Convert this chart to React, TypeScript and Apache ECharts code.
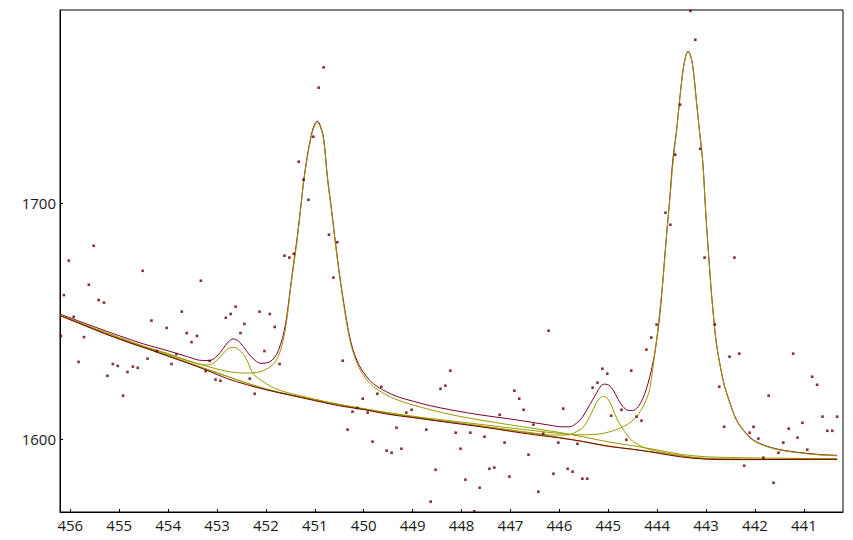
import React, { useEffect, useRef } from "react";
import * as echarts from "echarts";

const xTickValues = [441, 442, 443, 444, 445, 446, 447, 448, 449, 450, 451, 452, 453, 454, 455, 456];
const yTickValues = [1600, 1700];

const measured: number[][] = [
  [455.52, 1682.0], [456.03, 1675.7], [454.52, 1671.4], [453.33, 1667.2], [455.62, 1665.5], [456.13, 1661.1],
  [455.42, 1659.0], [455.31, 1657.9], [453.72, 1654.1], [452.62, 1656.2], [452.72, 1653.1], [452.82, 1651.5],
  [452.13, 1654.1], [451.92, 1653.1], [455.93, 1651.9], [454.34, 1650.3], [452.44, 1648.9], [451.82, 1647.6],
  [454.03, 1647.2], [456.19, 1643.8], [455.72, 1643.3], [453.41, 1643.8], [453.62, 1645.0], [452.52, 1645.0],
  [453.52, 1641.2], [454.23, 1637.4], [453.83, 1636.1], [452.03, 1637.4], [454.42, 1634.2], [455.83, 1632.8],
  [455.13, 1631.9], [455.03, 1631.1], [453.93, 1631.9], [454.72, 1630.8], [454.62, 1630.3], [454.83, 1628.5],
  [451.72, 1631.9], [453.15, 1633.2], [453.23, 1628.9], [455.24, 1626.9], [453.03, 1625.3], [452.93, 1624.8],
  [452.33, 1625.7], [454.92, 1618.5], [452.23, 1619.3], [451.62, 1677.8], [451.52, 1677.0], [451.43, 1678.6],
  [450.71, 1686.7], [450.62, 1668.5], [450.82, 1757.6], [450.92, 1749.0], [451.03, 1728.2], [451.33, 1717.6],
  [451.23, 1710.0], [451.13, 1701.5], [450.54, 1683.5],
  [450.43, 1633.3], [446.22, 1646.0], [448.23, 1629.1], [448.43, 1621.4], [448.33, 1622.7], [449.64, 1622.3],
  [449.72, 1619.3], [450.02, 1617.2], [450.13, 1613.3], [450.23, 1611.7], [449.92, 1611.3], [449.13, 1611.3],
  [449.02, 1612.5], [446.92, 1620.6], [446.82, 1617.2], [446.73, 1612.5], [447.22, 1610.4], [446.53, 1606.2],
  [446.33, 1602.4], [445.92, 1613.0], [445.12, 1629.9], [445.02, 1627.8], [445.22, 1624.0], [445.32, 1621.9],
  [444.94, 1610.0], [450.33, 1604.1], [449.33, 1604.9], [448.72, 1604.1], [448.12, 1602.8], [447.82, 1602.8],
  [447.53, 1601.1], [449.82, 1599.0], [447.12, 1598.6], [446.02, 1598.6], [445.63, 1598.1], [449.53, 1595.2],
  [449.43, 1594.3], [449.23, 1596.0], [448.02, 1596.0], [446.63, 1593.5], [448.53, 1587.1], [447.43, 1587.5],
  [447.33, 1588.0], [445.83, 1587.5], [445.73, 1586.3], [446.12, 1585.4], [447.02, 1584.2], [447.92, 1582.9],
  [445.53, 1583.3], [445.43, 1583.3], [447.63, 1579.5], [446.43, 1577.8], [448.63, 1573.6], [447.74, 1569.5],
  [443.83, 1696.0], [443.73, 1690.9], [443.03, 1677.0], [442.42, 1677.0], [442.82, 1648.6], [444.01, 1648.6],
  [444.12, 1643.1], [444.22, 1638.0], [442.52, 1635.0], [442.32, 1636.3], [441.22, 1636.3], [444.53, 1629.1],
  [440.83, 1626.5], [440.73, 1623.1], [442.73, 1622.3], [441.72, 1618.5], [444.73, 1612.5], [444.42, 1609.6],
  [444.32, 1607.9], [440.62, 1609.6], [440.32, 1609.6], [442.63, 1605.3], [442.03, 1605.3], [441.03, 1607.0],
  [441.31, 1604.5], [440.52, 1603.6], [440.42, 1603.6], [442.11, 1602.8], [441.93, 1600.3], [444.63, 1599.8],
  [441.13, 1600.7], [441.42, 1598.6], [440.93, 1595.6], [441.52, 1594.3], [441.83, 1592.2], [442.22, 1588.8],
  [441.62, 1581.6],
  [443.32, 1781.5], [443.22, 1769.3], [443.53, 1741.8], [443.63, 1720.6], [443.12, 1723.1],
];

const background: number[][] = [
  [456.2, 1652.3], [455.8, 1649.0], [455.3, 1644.8], [454.8, 1641.0], [454.4, 1638.2], [454.0, 1635.2],
  [453.6, 1632.3], [453.2, 1629.2], [452.8, 1625.8], [452.4, 1623.2], [452.0, 1621.0], [451.5, 1618.7],
  [451.0, 1616.4], [450.5, 1614.2], [450.0, 1612.6], [449.5, 1610.6], [449.0, 1609.2], [448.5, 1607.8],
  [448.0, 1606.4], [447.5, 1605.0], [447.0, 1603.4], [446.5, 1601.9], [446.0, 1600.6], [445.5, 1599.0],
  [445.0, 1597.0], [444.5, 1595.8], [444.0, 1594.2], [443.5, 1592.5], [443.0, 1591.6], [442.5, 1591.4],
  [442.0, 1591.4], [441.0, 1591.5], [440.32, 1591.5],
];

const peak1: number[][] = [
  [456.2, 1652.5], [455.5, 1646.8], [455.0, 1643.0], [454.5, 1639.3], [454.0, 1636.0], [453.6, 1633.3],
  [453.3, 1631.6], [453.18, 1631.5], [453.05, 1632.6], [452.93, 1635.0], [452.82, 1637.6], [452.74, 1638.7],
  [452.67, 1639.0], [452.6, 1638.6], [452.5, 1637.0], [452.42, 1634.8], [452.35, 1631.8], [452.29, 1628.8],
  [452.2, 1626.5], [452.09, 1624.9], [451.95, 1623.0], [451.82, 1621.6], [451.6, 1620.0], [451.3, 1618.5],
  [451.0, 1617.0], [450.5, 1614.7], [450.0, 1612.8], [449.0, 1609.4], [448.0, 1606.6], [447.0, 1603.7],
  [446.0, 1600.8], [445.0, 1597.2], [444.0, 1594.4], [443.0, 1591.8], [442.0, 1591.5], [440.32, 1591.6],
];

const peak2: number[][] = [
  [456.2, 1652.6], [455.5, 1647.0], [455.0, 1643.2], [454.5, 1639.5], [454.0, 1636.3], [453.6, 1633.4],
  [453.2, 1630.9], [452.9, 1629.3], [452.7, 1628.5], [452.5, 1628.1], [452.3, 1628.1], [452.1, 1628.7],
  [451.95, 1630.2], [451.82, 1632.4], [451.72, 1636.5], [451.64, 1642.5], [451.57, 1651.0], [451.5, 1663.0],
  [451.43, 1674.0], [451.37, 1683.0], [451.3, 1695.5], [451.23, 1708.5], [451.16, 1718.5], [451.08, 1727.5],
  [451.01, 1732.6], [450.95, 1734.2], [450.89, 1732.4], [450.82, 1727.0], [450.74, 1710.0], [450.66, 1697.0],
  [450.58, 1683.0], [450.5, 1670.0], [450.42, 1658.5], [450.33, 1647.0], [450.24, 1638.5], [450.1, 1630.5],
  [449.95, 1625.6], [449.8, 1622.3], [449.55, 1619.0], [449.3, 1616.6], [449.0, 1614.6], [448.65, 1612.6],
  [448.2, 1610.4], [447.6, 1608.1], [447.0, 1606.1], [446.5, 1604.5], [446.0, 1602.9], [445.5, 1601.0],
  [445.0, 1598.9], [444.5, 1597.3], [444.0, 1595.5], [443.5, 1593.6], [443.0, 1592.6], [442.5, 1592.3],
  [442.0, 1592.1], [441.0, 1591.9], [440.32, 1591.8],
];

const peak3: number[][] = [
  [456.2, 1652.4], [455.0, 1642.5], [454.0, 1635.4], [453.0, 1628.2], [452.0, 1621.2], [451.0, 1616.6],
  [450.0, 1612.8], [449.0, 1609.5], [448.0, 1606.8], [447.0, 1604.0], [446.5, 1602.6], [446.1, 1601.8],
  [445.85, 1601.8], [445.72, 1602.5], [445.6, 1603.8], [445.52, 1604.9], [445.45, 1607.0], [445.38, 1609.6],
  [445.3, 1613.0], [445.24, 1615.7], [445.17, 1617.5], [445.1, 1618.2], [445.03, 1617.6], [444.96, 1615.5],
  [444.9, 1612.6], [444.82, 1608.6], [444.73, 1605.3], [444.6, 1601.4], [444.49, 1599.0], [444.3, 1596.8],
  [444.15, 1595.6], [443.8, 1594.1], [443.47, 1593.0], [443.13, 1592.1], [442.5, 1591.7], [441.5, 1591.6],
  [440.32, 1591.6],
];

const peak4: number[][] = [
  [456.2, 1652.4], [455.0, 1642.7], [454.0, 1635.6], [453.0, 1628.2], [452.0, 1621.4], [451.0, 1616.8],
  [450.0, 1613.0], [449.0, 1609.8], [448.0, 1607.3], [447.0, 1604.8], [446.5, 1603.6], [446.0, 1602.5],
  [445.6, 1601.9], [445.2, 1602.2], [444.95, 1603.3], [444.77, 1604.6], [444.6, 1606.4], [444.49, 1608.2],
  [444.38, 1610.8], [444.29, 1613.8], [444.2, 1618.0], [444.15, 1621.5], [444.09, 1630.0], [444.03, 1639.0],
  [443.98, 1647.7], [443.93, 1657.5], [443.88, 1667.5], [443.81, 1685.8], [443.74, 1702.0], [443.67, 1718.4],
  [443.6, 1731.0], [443.54, 1743.8], [443.47, 1756.5], [443.42, 1762.0], [443.37, 1764.2], [443.32, 1762.6],
  [443.27, 1757.8], [443.2, 1743.8], [443.13, 1729.6], [443.07, 1718.2], [443.0, 1693.8], [442.94, 1675.8],
  [442.89, 1661.8], [442.84, 1650.3], [442.79, 1640.6], [442.7, 1629.8], [442.62, 1622.2], [442.5, 1614.6],
  [442.38, 1608.1], [442.2, 1602.8], [442.04, 1599.6], [441.85, 1597.6], [441.63, 1596.1], [441.4, 1595.1],
  [441.09, 1594.2], [440.7, 1593.4], [440.32, 1593.0],
];

const envelope: number[][] = [
  [456.2, 1653.0], [455.5, 1647.6], [455.0, 1643.9], [454.5, 1640.4], [454.0, 1637.5], [453.6, 1635.0],
  [453.3, 1633.4], [453.15, 1633.4], [453.0, 1635.3], [452.88, 1638.3], [452.77, 1641.3], [452.67, 1642.5],
  [452.57, 1641.8], [452.46, 1639.3], [452.35, 1636.2], [452.22, 1633.4], [452.1, 1632.2], [451.98, 1632.4],
  [451.87, 1633.6], [451.78, 1636.0], [451.7, 1640.2], [451.63, 1645.5], [451.57, 1652.5], [451.5, 1664.0],
  [451.43, 1675.0], [451.37, 1684.0], [451.3, 1696.3], [451.23, 1709.2], [451.16, 1719.2], [451.08, 1728.2],
  [451.01, 1733.2], [450.95, 1734.8], [450.89, 1733.0], [450.82, 1727.6], [450.74, 1710.8], [450.66, 1697.8],
  [450.58, 1683.8], [450.5, 1670.8], [450.42, 1659.4], [450.33, 1648.0], [450.24, 1639.5], [450.1, 1631.6],
  [449.95, 1626.8], [449.8, 1623.5], [449.55, 1620.3], [449.3, 1618.0], [449.0, 1616.2], [448.65, 1614.3],
  [448.2, 1612.4], [447.6, 1610.3], [447.0, 1608.6], [446.5, 1607.0], [446.2, 1606.0], [445.95, 1605.3],
  [445.79, 1605.3], [445.65, 1606.8], [445.52, 1609.6], [445.38, 1614.6], [445.24, 1619.5], [445.15, 1622.6],
  [445.07, 1623.4], [444.98, 1622.8], [444.9, 1620.9], [444.8, 1617.0], [444.7, 1613.9], [444.6, 1612.3],
  [444.5, 1612.2], [444.42, 1613.1], [444.35, 1615.0], [444.29, 1617.4], [444.22, 1621.4], [444.15, 1626.5],
  [444.1, 1631.0], [444.05, 1636.4], [444.0, 1643.5], [443.95, 1651.9], [443.9, 1663.0], [443.85, 1676.0],
  [443.8, 1688.5], [443.75, 1700.0], [443.68, 1718.3], [443.6, 1731.5], [443.54, 1744.0], [443.47, 1756.5],
  [443.42, 1762.0], [443.37, 1764.4], [443.32, 1762.8], [443.27, 1758.0], [443.2, 1744.0], [443.13, 1729.8],
  [443.07, 1718.4], [443.0, 1694.0], [442.94, 1676.0], [442.89, 1662.0], [442.84, 1650.5], [442.79, 1640.8],
  [442.7, 1630.0], [442.62, 1622.4], [442.5, 1614.8], [442.38, 1608.3], [442.2, 1603.0], [442.04, 1599.8],
  [441.85, 1597.8], [441.63, 1596.3], [441.4, 1595.3], [441.09, 1594.4], [440.7, 1593.6], [440.32, 1593.2],
];

const OLIVE = "#999900";
const MAROON = "#7a0000";
const ENVELOPE = "#800030";

function curve(name: string, data: number[][], color: string, z: number) {
  return {
    name,
    type: "line",
    data,
    showSymbol: false,
    symbol: "none",
    smooth: 0.35,
    lineStyle: { color, width: 1 },
    z,
    silent: true,
  };
}

export default function App() {
  const ref = useRef<HTMLDivElement>(null);
  useEffect(() => {
    if (!ref.current) return;
    const chart = echarts.init(ref.current, null, { renderer: "svg" });
    const labelStyle = { color: "#1a1a1a", fontFamily: "Open Sans", fontSize: 15 };
    chart.setOption({
      animation: false,
      backgroundColor: "#ffffff",
      grid: {
        left: 60,
        right: 10,
        top: 10,
        bottom: 28,
        containLabel: false,
        outerBoundsMode: "none",
        show: true,
        borderColor: "#000",
        borderWidth: 1,
        backgroundColor: "transparent",
      },
      xAxis: {
        type: "value",
        inverse: true,
        min: 440.2,
        max: 456.21,
        axisLine: { show: true, onZero: false, lineStyle: { color: "#000", width: 1 } },
        axisTick: { show: true, inside: true, length: 3, customValues: xTickValues, lineStyle: { color: "#000" } },
        axisLabel: {
          ...labelStyle,
          margin: 5,
          customValues: xTickValues,
          hideOverlap: false,
          formatter: (v: number) => String(Math.round(v)),
        },
        splitLine: { show: false },
      },
      yAxis: {
        type: "value",
        min: 1569.2,
        max: 1781.9,
        axisLine: { show: true, onZero: false, lineStyle: { color: "#000", width: 1 } },
        axisTick: { show: true, inside: true, length: 3, customValues: yTickValues, lineStyle: { color: "#000" } },
        axisLabel: {
          ...labelStyle,
          margin: 4,
          customValues: yTickValues,
          hideOverlap: false,
          formatter: (v: number) => String(Math.round(v)),
        },
        splitLine: { show: false },
      },
      series: [
        curve("envelope", envelope, ENVELOPE, 2),
        curve("peak1", peak1, OLIVE, 3),
        curve("peak2", peak2, OLIVE, 3),
        curve("peak3", peak3, OLIVE, 3),
        curve("peak4", peak4, OLIVE, 3),
        curve("background", background, MAROON, 4),
        {
          name: "measured",
          type: "scatter",
          data: measured,
          symbol: "rect",
          symbolSize: 2.6,
          itemStyle: { color: "#600000" },
          z: 5,
          silent: true,
        },
      ],
    });
    return () => chart.dispose();
  }, []);
  return (
    <div
      ref={ref}
      style={{ position: "fixed", left: 0, top: 0, width: 853, height: 540 }}
    />
  );
}
